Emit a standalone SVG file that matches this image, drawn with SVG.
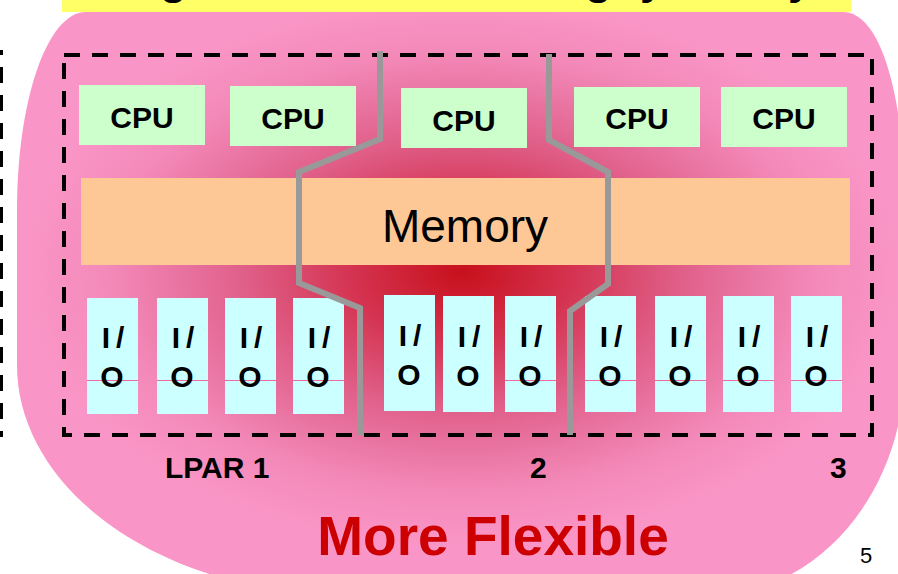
<svg xmlns="http://www.w3.org/2000/svg" width="898" height="574" viewBox="0 0 898 574">
  <defs>
    <radialGradient id="glow" gradientUnits="userSpaceOnUse" cx="0" cy="0" r="1" gradientTransform="translate(462 272) scale(440 275)">
      <stop offset="0" stop-color="#c8101c"/>
      <stop offset="0.25" stop-color="#d43350"/>
      <stop offset="0.5" stop-color="#e0608a"/>
      <stop offset="0.8" stop-color="#f389b9"/>
      <stop offset="1" stop-color="#fa96c7"/>
    </radialGradient>
    <clipPath id="barClip">
      <rect x="62" y="0" width="789" height="12"/>
    </clipPath>
    <style>
      .cpu rect { fill: #ccffcc; }
      .io rect { fill: #ccffff; }
      .io line { stroke: #f06aa0; stroke-width: 1; }
      .box-t { font-family: "Liberation Sans", Arial, sans-serif; font-weight: bold; font-size: 30px; fill: #000; text-anchor: middle; }
      .frame { fill: none; stroke: #000; stroke-width: 4; stroke-dasharray: 16 12; }
      .part { fill: none; stroke: #999999; stroke-width: 6; stroke-linejoin: miter; }
      .lbl { font-family: "Liberation Sans", Arial, sans-serif; font-weight: bold; font-size: 30px; fill: #000; }
    </style>
  </defs>

  <rect width="898" height="574" fill="#ffffff"/>

  <!-- backdrop blob -->
  <path id="backdrop" d="M86,12 H843 C882,12 905,101 905,210 V365 C905,492 818,595 710,595 H347 C165,595 17,492 17,365 V210 C17,101 47,12 86,12 Z" fill="url(#glow)"/>

  <!-- title bar (text runs off the top edge) -->
  <g id="title-bar">
    <rect x="62" y="0" width="789" height="12" fill="#ffff66"/>
    <g clip-path="url(#barClip)" font-family="Liberation Sans, Arial, sans-serif" font-weight="bold" font-size="44" fill="#000">
      <text x="160" y="-6">g</text>
      <text x="585" y="-6">g</text>
      <text x="640" y="-6">y</text>
      <text x="788" y="-6">y</text>
    </g>
  </g>

  <!-- partition frames -->
  <g id="frames">
    <path class="frame" d="M-40,52 H1 V435 H-40"/>
    <rect class="frame" x="64" y="55" width="808" height="380"/>
  </g>

  <!-- processors -->
  <g id="cpu1" class="cpu"><rect x="79" y="85" width="126" height="60"/><text class="box-t" x="142" y="128">CPU</text></g>
  <g id="cpu2" class="cpu"><rect x="230" y="86" width="126" height="60"/><text class="box-t" x="293" y="129">CPU</text></g>
  <g id="cpu3" class="cpu"><rect x="401" y="88" width="126" height="60"/><text class="box-t" x="464" y="131">CPU</text></g>
  <g id="cpu4" class="cpu"><rect x="574" y="87" width="126" height="60"/><text class="box-t" x="637" y="129">CPU</text></g>
  <g id="cpu5" class="cpu"><rect x="721" y="87" width="126" height="60"/><text class="box-t" x="784" y="129">CPU</text></g>

  <!-- shared memory -->
  <g id="memory">
    <rect x="81" y="178" width="769" height="87" fill="#fdc896"/>
    <text x="465" y="242" font-family="Liberation Sans, Arial, sans-serif" font-size="46" text-anchor="middle" fill="#000">Memory</text>
  </g>

  <!-- I/O adapters -->
  <g id="io1" class="io"><rect x="87" y="298" width="51" height="116"/><line x1="87" y1="380.5" x2="138" y2="380.5"/><text class="box-t" x="113" y="348">I<tspan dx="6">/</tspan></text><text class="box-t" x="112" y="387">O</text></g>
  <g id="io2" class="io"><rect x="157" y="298" width="51" height="116"/><line x1="157" y1="380.5" x2="208" y2="380.5"/><text class="box-t" x="183" y="348">I<tspan dx="6">/</tspan></text><text class="box-t" x="182" y="387">O</text></g>
  <g id="io3" class="io"><rect x="225" y="298" width="51" height="116"/><line x1="225" y1="380.5" x2="276" y2="380.5"/><text class="box-t" x="251" y="348">I<tspan dx="6">/</tspan></text><text class="box-t" x="250" y="387">O</text></g>
  <g id="io4" class="io"><rect x="293" y="298" width="51" height="116"/><line x1="293" y1="380.5" x2="344" y2="380.5"/><text class="box-t" x="319" y="348">I<tspan dx="6">/</tspan></text><text class="box-t" x="318" y="387">O</text></g>
  <g id="io5" class="io"><rect x="384" y="295" width="51" height="116"/><text class="box-t" x="410" y="346">I<tspan dx="6">/</tspan></text><text class="box-t" x="409" y="385">O</text></g>
  <g id="io6" class="io"><rect x="443" y="296" width="51" height="116"/><text class="box-t" x="469" y="347">I<tspan dx="6">/</tspan></text><text class="box-t" x="468" y="386">O</text></g>
  <g id="io7" class="io"><rect x="505" y="296" width="51" height="116"/><line x1="505" y1="380.5" x2="556" y2="380.5"/><text class="box-t" x="531" y="347">I<tspan dx="6">/</tspan></text><text class="box-t" x="530" y="386">O</text></g>
  <g id="io8" class="io"><rect x="585" y="296" width="51" height="116"/><line x1="585" y1="380.5" x2="636" y2="380.5"/><text class="box-t" x="611" y="347">I<tspan dx="6">/</tspan></text><text class="box-t" x="610" y="386">O</text></g>
  <g id="io9" class="io"><rect x="655" y="296" width="51" height="116"/><line x1="655" y1="380.5" x2="706" y2="380.5"/><text class="box-t" x="681" y="347">I<tspan dx="6">/</tspan></text><text class="box-t" x="680" y="386">O</text></g>
  <g id="io10" class="io"><rect x="723" y="296" width="51" height="116"/><line x1="723" y1="380.5" x2="774" y2="380.5"/><text class="box-t" x="749" y="347">I<tspan dx="6">/</tspan></text><text class="box-t" x="748" y="386">O</text></g>
  <g id="io11" class="io"><rect x="791" y="296" width="51" height="116"/><line x1="791" y1="380.5" x2="842" y2="380.5"/><text class="box-t" x="817" y="347">I<tspan dx="6">/</tspan></text><text class="box-t" x="816" y="386">O</text></g>

  <!-- partition boundaries -->
  <g id="connectors">
    <path class="part" d="M380,51 V139 L299,172 V283 L360,308 V435"/>
    <path class="part" d="M549,54 V140 L608,172 V284 L570,311 V435"/>
  </g>

  <!-- partition labels -->
  <g id="labels">
    <text class="lbl" x="165" y="478">LPAR 1</text>
    <text class="lbl" x="530" y="478">2</text>
    <text class="lbl" x="830" y="478">3</text>
    <text x="493" y="555" font-family="Liberation Sans, Arial, sans-serif" font-weight="bold" font-size="55" fill="#cc0000" text-anchor="middle">More Flexible</text>
    <text x="860" y="563" font-family="Liberation Sans, Arial, sans-serif" font-size="22" fill="#000">5</text>
  </g>
</svg>
